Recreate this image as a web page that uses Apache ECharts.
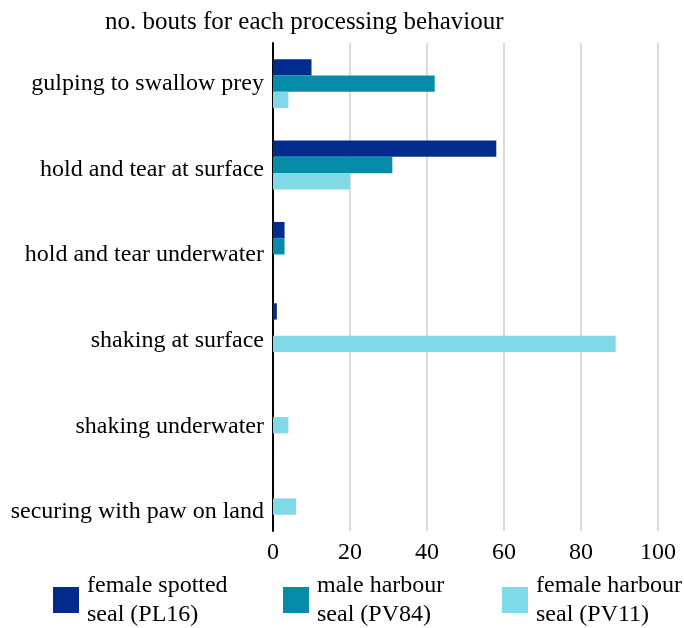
<!DOCTYPE html>
<html>
<head>
<meta charset="utf-8">
<script src="https://cdn.jsdelivr.net/npm/echarts@6/dist/echarts.min.js"></script>
<style>
  html, body { margin: 0; padding: 0; background: #fff; }
  #chart { width: 684px; height: 628px; }
</style>
</head>
<body>
<div id="chart"></div>
<script>
const behaviours = [
  'gulping to swallow prey',
  'hold and tear at surface',
  'hold and tear underwater',
  'shaking at surface',
  'shaking underwater',
  'securing with paw on land',
]
const seriesNames = [
  'female spotted seal (PL16)',
  'male harbour seal (PV84)',
  'female harbour seal (PV11)',
]
const spottedPL16 = [10, 58, 3, 1, 0, 0]
const harbourPV84 = [42, 31, 3, 0, 0, 0]
const harbourPV11 = [4, 20, 0, 89, 4, 6]
const xTicks = [0, 20, 40, 60, 80, 100]

const COLORS = ['#022b8e', '#068ca9', '#80d9e7']
const FONT = 'Liberation Serif'

const chart = echarts.init(document.getElementById('chart'), null, { renderer: 'canvas' })

const values = [spottedPL16, harbourPV84, harbourPV11]
const legendLeft = [48, 278, 497]

chart.setOption({
  animation: false,
  textStyle: { fontFamily: FONT, color: '#000' },
  title: {
    text: 'no. bouts for each processing behaviour',
    left: 100,
    top: 5,
    textStyle: { fontFamily: FONT, fontSize: 25, fontWeight: 'normal', color: '#000' },
  },
  legend: seriesNames.map((name, i) => ({
    data: [name],
    left: legendLeft[i],
    top: 566,
    itemWidth: 26,
    itemHeight: 26,
    icon: 'rect',
    selectedMode: false,
    formatter: n => n.replace(' seal', '\nseal'),
    textStyle: { fontFamily: FONT, fontSize: 24, lineHeight: 29, color: '#000', padding: [0, 0, 0, 3] },
  })),
  grid: [
    { left: 273, right: 26, top: 43, bottom: 97 },
    // label-only grid, the reference spaces its category labels a bit wider
    { left: 273, right: 26, top: 41, bottom: 73 },
  ],
  xAxis: [
    {
      type: 'value',
      gridIndex: 0,
      min: xTicks[0],
      max: xTicks[xTicks.length - 1],
      interval: 20,
      axisLine: { show: false },
      axisTick: { show: false },
      axisLabel: { fontFamily: FONT, fontSize: 24, color: '#000', margin: 10 },
      splitLine: { lineStyle: { color: '#dadada', width: 2 } },
    },
    { type: 'value', gridIndex: 1, min: 0, max: 1, show: false },
  ],
  yAxis: [
    {
      type: 'category',
      gridIndex: 0,
      data: behaviours,
      inverse: true,
      axisLine: { show: true, lineStyle: { color: '#000', width: 2 } },
      axisTick: { show: false },
      axisLabel: { show: false },
    },
    {
      type: 'category',
      gridIndex: 1,
      data: behaviours,
      inverse: true,
      axisLine: { show: false },
      axisTick: { show: false },
      axisLabel: { fontFamily: FONT, fontSize: 24, color: '#000', margin: 9 },
      splitLine: { show: false },
    },
  ],
  series: seriesNames.map((name, i) => ({
    type: 'bar',
    name,
    xAxisIndex: 0,
    yAxisIndex: 0,
    data: values[i],
    barGap: '0%',
    barCategoryGap: '40%',
    itemStyle: { color: COLORS[i] },
  })),
})
</script>
</body>
</html>
